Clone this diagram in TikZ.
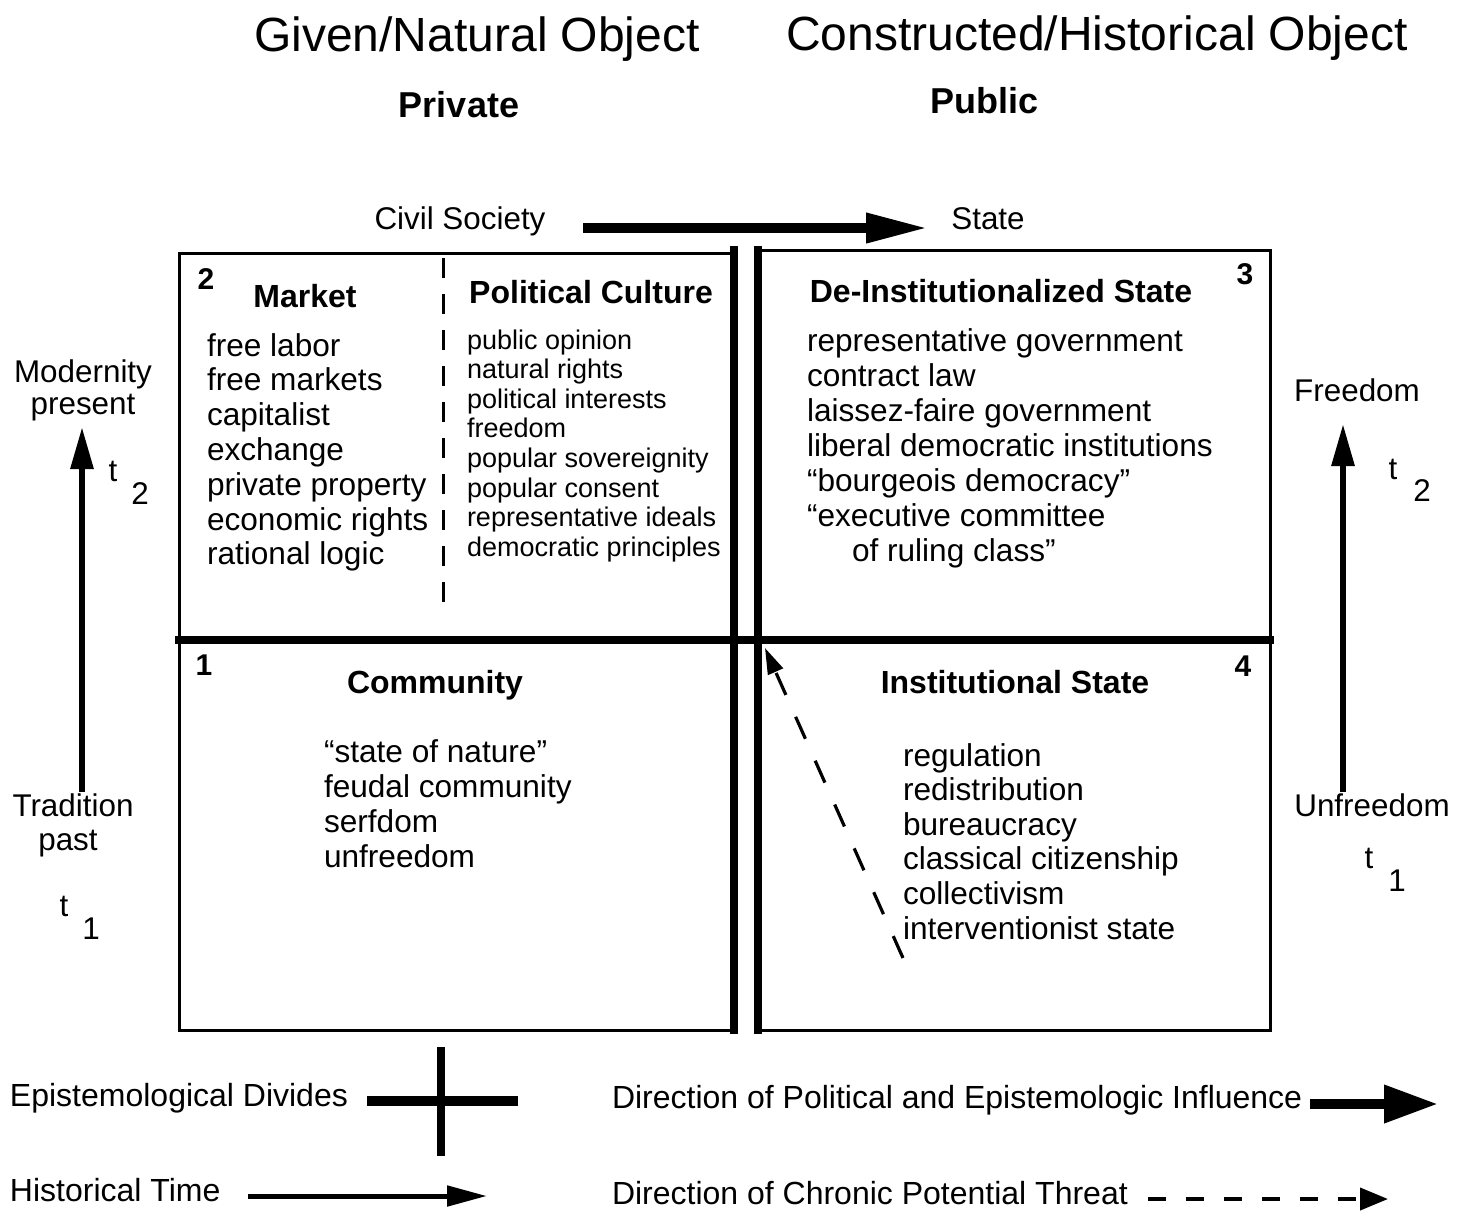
\documentclass[tikz,border=0pt]{standalone}
\usepackage{fontspec}
\setmainfont{Liberation Sans}
\usetikzlibrary{arrows.meta}
\begin{document}
\begin{tikzpicture}[x=0.5pt,y=-0.5pt,
  every node/.style={inner sep=0pt, outer sep=0pt},
  title/.style={font=\fontsize{24}{28}\selectfont, anchor=base},
  sub/.style={font=\bfseries\fontsize{18}{21}\selectfont, anchor=base},
  lbl/.style={font=\fontsize{15.7}{18}\selectfont, anchor=base},
  head/.style={font=\bfseries\fontsize{16}{19}\selectfont, anchor=base},
  num/.style={font=\bfseries\fontsize{15}{18}\selectfont, anchor=base},
  item/.style={font=\fontsize{15.8}{18}\selectfont, anchor=base west},
  smallitem/.style={font=\fontsize{13.5}{15}\selectfont, anchor=base west},
  legtext/.style={font=\fontsize{16}{19}\selectfont, anchor=base west},
  frameline/.style={line width=1.5pt},
  divide/.style={line width=4pt},
  bigarrow/.style={line width=5pt, -{Triangle[length=31pt,width=14pt]}},
  timearrow/.style={line width=3pt, -{Triangle[length=21pt,width=11pt]}},
  threat/.style={line width=1.6pt, dash pattern=on 12pt off 12pt, -{Triangle[length=13pt,width=8pt]}},
]
\useasboundingbox (0,0) rectangle (1461,1212);

% titles
\node[title] (given) at (477,51) {Given/Natural Object};
\node[title] (constr) at (1097,50) {Constructed/Historical Object};
\node[sub] (priv) at (459,117) {Private};
\node[sub] (pub) at (984,113) {Public};

% civil society -> state
\node[lbl] (cs) at (460,229) {Civil Society};
\node[lbl] (st) at (988,229) {State};
\coordinate (csA) at (583,228);
\coordinate (stA) at (928,228);
\draw[bigarrow] (csA) -- (stA);

% frame
\draw[frameline] (179,253) rectangle (734,1030);
\draw[frameline] (758,250) rectangle (1270,1030);
\draw[divide] (734,246) -- (734,1034);
\draw[divide] (758,246) -- (758,1034);
\draw[divide] (175,640) -- (1274,640);
\draw[frameline, dash pattern=on 10pt off 8pt] (443,258) -- (443,615);

% quadrant numbers
\node[num] (n2) at (206,289) {2};
\node[num] (n3) at (1245,284) {3};
\node[num] (n1) at (204,675) {1};
\node[num] (n4) at (1243,676) {4};

% headings
\node[head] (market) at (305,307) {Market};
\node[head] (polcult) at (591,303) {Political Culture};
\node[head] (deinst) at (1001,302) {De-Institutionalized State};
\node[head] (comm) at (435,693) {Community};
\node[head] (inst) at (1015,693) {Institutional State};

% lists
\foreach \t [count=\i from 0] in {free labor, free markets, capitalist, exchange, private property, economic rights, rational logic}
  \node[item] (mk\i) at (207,356+34.8*\i) {\t};
\foreach \t [count=\i from 0] in {public opinion, natural rights, political interests, freedom, popular sovereignity, popular consent, representative ideals, democratic principles}
  \node[smallitem] (pc\i) at (467,349+29.6*\i) {\t};
\foreach \t [count=\i from 0] in {representative government, contract law, laissez-faire government, liberal democratic institutions, ``bourgeois democracy'', ``executive committee}
  \node[item] (ds\i) at (807,351+35*\i) {\t};
\node[item] (ds6) at (852,561) {of ruling class''};
\foreach \t [count=\i from 0] in {``state of nature'', feudal community, serfdom, unfreedom}
  \node[item] (cm\i) at (324,762+35.2*\i) {\t};
\foreach \t [count=\i from 0] in {regulation, redistribution, bureaucracy, classical citizenship, collectivism, interventionist state}
  \node[item] (is\i) at (903,766+34.6*\i) {\t};

% threat arrow
\coordinate (thS) at (903,958);
\coordinate (thE) at (765,648);
\draw[threat] (thS) -- (thE);

% left time axis
\node[lbl] (modern) at (83,382) {Modernity};
\node[lbl] (present) at (83,414) {present};
\node[lbl] (trad) at (73,816) {Tradition};
\node[lbl] (past) at (68,850) {past};
\node[lbl] (lt2) at (113,481) {t};
\node[lbl] (lt2s) at (140,504) {2};
\node[lbl] (lt1) at (64,916) {t};
\node[lbl] (lt1s) at (91,939) {1};
\coordinate (lbot) at (82,792);
\coordinate (ltop) at (82,427);
\draw[timearrow] (lbot) -- (ltop);

% right freedom axis
\node[lbl] (free) at (1357,401) {Freedom};
\node[lbl] (unfree) at (1372,816) {Unfreedom};
\node[lbl] (rt2) at (1393,479) {t};
\node[lbl] (rt2s) at (1422,501) {2};
\node[lbl] (rt1) at (1369,868) {t};
\node[lbl] (rt1s) at (1397,891) {1};
\coordinate (rbot) at (1343,792);
\coordinate (rtop) at (1343,424);
\draw[timearrow] (rbot) -- (rtop);

% legend
\node[legtext] (epi) at (10,1106) {Epistemological Divides};
\coordinate (crL) at (367,1101);
\coordinate (crR) at (518,1101);
\coordinate (crT) at (441,1047);
\coordinate (crB) at (441,1156);
\draw[line width=5pt] (crL) -- (crR);
\draw[line width=4pt] (crT) -- (crB);

\node[legtext] (dir) at (612,1108) {Direction of Political and Epistemologic Influence};
\coordinate (dirS) at (1310,1104);
\coordinate (dirE) at (1438,1104);
\draw[line width=5pt, -{Triangle[length=27pt,width=18pt]}] (dirS) -- (dirE);

\node[legtext] (hist) at (10,1201) {Historical Time};
\coordinate (hS) at (248,1196);
\coordinate (hE) at (487,1196);
\draw[line width=2.5pt, -{Triangle[length=20pt,width=10pt]}] (hS) -- (hE);

\node[legtext] (chron) at (612,1204) {Direction of Chronic Potential Threat};
\coordinate (cS) at (1148,1199);
\coordinate (cE) at (1388,1199);
\draw[line width=2pt, dash pattern=on 9pt off 10pt, -{Triangle[length=14pt,width=11pt]}] (cS) -- (cE);
\end{tikzpicture}
\end{document}
